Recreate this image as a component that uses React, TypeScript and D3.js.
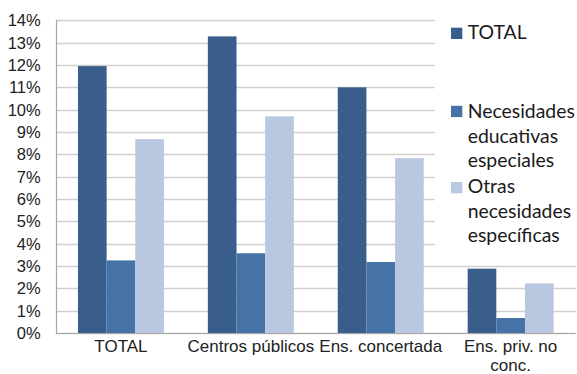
import React from "react";
import * as d3 from "d3";

const categories = ["TOTAL", "Centros públicos", "Ens. concertada", "Ens. priv. no conc."];
const categoryLines = [["TOTAL"], ["Centros públicos"], ["Ens. concertada"], ["Ens. priv. no", "conc."]];
const seriesNames = ["TOTAL", "Necesidades educativas especiales", "Otras necesidades específicas"];
const legendLines = [["TOTAL"], ["Necesidades", "educativas", "especiales"], ["Otras", "necesidades", "específicas"]];
const totalValues = [11.95, 13.28, 11.0, 2.88];
const neeValues = [3.25, 3.57, 3.18, 0.67];
const otrasValues = [8.68, 9.7, 7.83, 2.22];
const yTicks = [0, 1, 2, 3, 4, 5, 6, 7, 8, 9, 10, 11, 12, 13, 14];
const colors = ["#3A5E8C", "#4573A8", "#B9C7E0"];

export default function App() {
  const W = 577, H = 374;
  const left = 56, right = 575.6, top = 20.3, bottom = 333;
  const series = [totalValues, neeValues, otrasValues];
  const x = d3.scaleBand<string>().domain(categories).range([left, right]).paddingInner(0.338).paddingOuter(0.169);
  const xs = d3.scaleBand<number>().domain([0, 1, 2]).range([0, x.bandwidth()]).padding(0);
  const y = d3.scaleLinear().domain([0, 14]).range([bottom, top]);
  const legendTop = [39, 118.3, 193.3];
  const legendSquareY = [27.7, 105.8, 182];
  const font = "'Liberation Sans', Arial, sans-serif";
  return (
    <svg width={W} height={H} style={{ position: "absolute", left: 0, top: 0, background: "#fff" }}>
      <rect x={0} y={0} width={W} height={H} fill="#fff" />
      {yTicks.map((t) => (
        <line key={t} x1={left} x2={right} y1={Math.round(y(t)) + 0.5} y2={Math.round(y(t)) + 0.5} stroke="#CFCFCF" strokeWidth={1.3} />
      ))}
      <rect x={434.7} y={0} width={W - 434.7} height={252} fill="#fff" />
      {categories.map((c, ci) =>
        series.map((vals, si) => (
          <rect key={c + si} x={(x(c) as number) + (xs(si) as number)} y={y(vals[ci])} width={xs.bandwidth()} height={bottom - y(vals[ci])} fill={colors[si]} />
        ))
      )}
      <line x1={left + 0.5} x2={left + 0.5} y1={top} y2={bottom} stroke="#A6A6A6" strokeWidth={1.2} />
      <line x1={left} x2={right} y1={bottom + 0.5} y2={bottom + 0.5} stroke="#A6A6A6" strokeWidth={1.2} />
      {yTicks.map((t) => (
        <text key={t} x={40.7} y={y(t)} dy="0.36em" textAnchor="end" fontFamily={font} fontSize={16.5} fill="#222">{t}%</text>
      ))}
      {categories.map((c, ci) => (
        <text key={c} x={(x(c) as number) + x.bandwidth() / 2} y={352} textAnchor="middle" fontFamily={font} fontSize={17} fill="#222">
          {categoryLines[ci].map((l, li) => (
            <tspan key={li} x={(x(c) as number) + x.bandwidth() / 2} dy={li === 0 ? 0 : 18.6}>{l}</tspan>
          ))}
        </text>
      ))}
      {seriesNames.map((s, si) => (
        <g key={s}>
          <rect x={451} y={legendSquareY[si]} width={11.3} height={11.3} fill={colors[si]} />
          <text x={467.7} y={legendTop[si]} fontFamily="Lato, 'Open Sans', sans-serif" fontSize={19.4} fill="#1a1a1a">
            {legendLines[si].map((l, li) => (
              <tspan key={li} x={467.7} dy={li === 0 ? 0 : 24.2}>{l}</tspan>
            ))}
          </text>
        </g>
      ))}
    </svg>
  );
}
